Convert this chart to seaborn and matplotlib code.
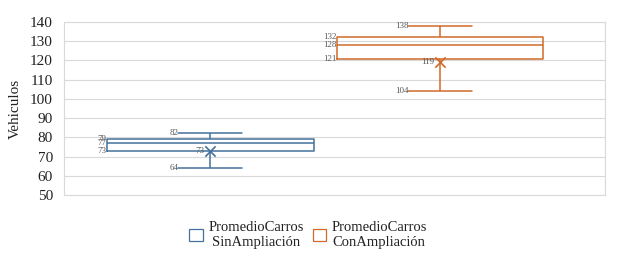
import numpy as np
import pandas as pd
import matplotlib
matplotlib.use("Agg")
import matplotlib.pyplot as plt
import seaborn as sns
from matplotlib.patches import Patch

series = ["PromedioCarros\nSinAmpliación", "PromedioCarros\nConAmpliación"]
mins = [64, 104]
q1s = [73, 121]
medians = [77, 128]
q3s = [79, 132]
maxs = [82, 138]
means = [73, 119]
colors = ["#44729D", "#D0692A"]
yticks = [50, 60, 70, 80, 90, 100, 110, 120, 130, 140]

rows = []
for s, a, b, c, d, e in zip(series, mins, q1s, medians, q3s, maxs):
    for v in (a, b, c, d, e):
        rows.append({"cat": "", "serie": s, "valor": v})
df = pd.DataFrame(rows)

sns.set_theme(style="white")
plt.rcParams["font.family"] = ["Liberation Serif", "DejaVu Serif"]

fig = plt.figure(figsize=(6.2, 2.66), dpi=100)
ax = fig.add_axes([64/620, 1-195/266, (605-64)/620, (195-22)/266])

sns.boxplot(data=df, x="cat", y="valor", hue="serie", hue_order=series,
            palette=colors, fill=False, width=0.8, gap=0.1, whis=(0, 100),
            linewidth=1.1, ax=ax, legend=False, showfliers=False)

ax.set_xlim(-0.454, 0.487)
ax.set_ylim(50, 140)
ax.set_yticks(yticks)
ax.set_xticks([])
ax.set_xlabel("")
ax.set_ylabel("Vehiculos", fontsize=11, color="#222222", labelpad=6)
ax.tick_params(axis="y", labelsize=11, colors="#222222", length=0, pad=8)
ax.grid(axis="y", color="#D9D9D9", linewidth=0.8)
ax.set_axisbelow(True)
for sp in ax.spines.values():
    sp.set_color("#D9D9D9")
    sp.set_linewidth(0.8)

# caps: shorten to ~0.3 of box width
for line in ax.lines:
    xd = np.asarray(line.get_xdata(), dtype=float)
    yd = np.asarray(line.get_ydata(), dtype=float)
    if len(xd) == 2 and yd[0] == yd[1] and (yd[0] in mins or yd[0] in maxs):
        c = xd.mean()
        line.set_xdata([c - 0.055, c + 0.055])

pos = [-0.2, 0.2]
bw = 0.36
lab_kw = dict(fontsize=6.5, color="#595959", va="center")
for i in range(2):
    ax.scatter([pos[i]], [means[i]], marker="x", s=55, color=colors[i], linewidths=1.2, zorder=5)
    left = pos[i] - bw / 2
    for v in (q3s[i], medians[i], q1s[i]):
        ax.text(left, v, f"{v}", ha="right", **lab_kw)
    for v in (maxs[i], mins[i]):
        ax.text(pos[i] - 0.055, v, f"{v}", ha="right", **lab_kw)
    ax.text(pos[i] - 0.01, means[i], f"{means[i]}", ha="right", **lab_kw)

handles = [Patch(facecolor="white", edgecolor=c, linewidth=0.9) for c in colors]
leg = fig.legend(handles, series, loc="center", bbox_to_anchor=(0.497, 1-235/266),
                 ncol=2, frameon=False, fontsize=10.5, handlelength=0.9, handleheight=0.9,
                 handletextpad=0.4, columnspacing=0.6, labelcolor="#222222")
for t in leg.get_texts():
    t.set_multialignment("center")

fig.savefig("out.png", dpi=100)
